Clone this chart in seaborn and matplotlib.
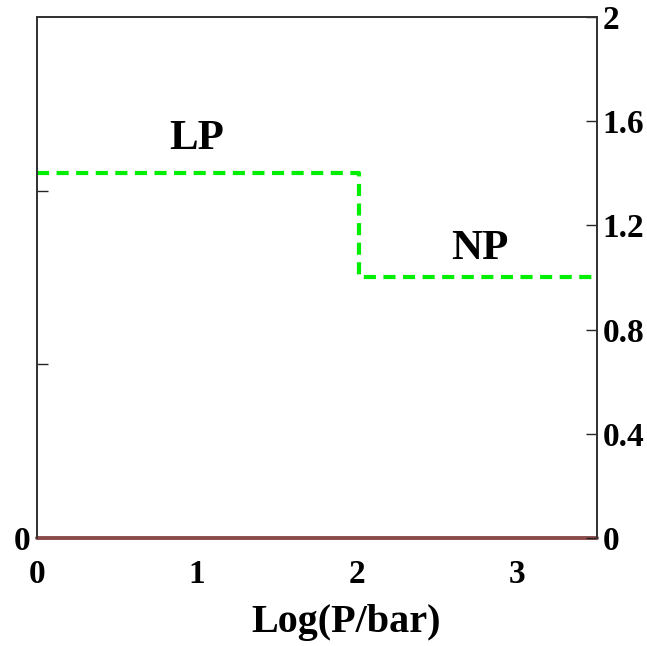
import matplotlib
matplotlib.use("Agg")
import matplotlib.pyplot as plt
import seaborn as sns
import pandas as pd

# Data
log_p = [0.0, 2.01, 2.01, 3.5]
ratio = [1.4, 1.4, 1.0, 1.0]
base_x = [0.0, 3.5]
base_y = [0.0, 0.0]
x_ticks = [0, 1, 2, 3]
right_ticks = [0, 0.4, 0.8, 1.2, 1.6, 2]
right_labels = ["0", "0.4", "0.8", "1.2", "1.6", "2"]
left_ticks = [0, 2 / 3, 4 / 3]
left_labels = ["0", "", ""]
phase_labels = ["LP", "NP"]
phase_x = [1.0, 2.77]
phase_y = [1.53, 1.11]

sns.set_style("white")
plt.rcParams["font.family"] = ["Liberation Serif", "DejaVu Serif"]
plt.rcParams["font.weight"] = "bold"
plt.rcParams["text.color"] = "black"

fig = plt.figure(figsize=(6.47, 6.46), dpi=100)
ax = fig.add_axes([0.0572, 0.1672, 0.8655, 0.8065])

step = pd.DataFrame({"x": log_p, "y": ratio})
base = pd.DataFrame({"x": base_x, "y": base_y})
sns.lineplot(data=step, x="x", y="y", ax=ax, color="#00ee00", linewidth=3,
             linestyle=(0, (2.9, 1.8)), sort=False, estimator=None)
sns.lineplot(data=base, x="x", y="y", ax=ax, color="#8b4a4a", linewidth=2.8,
             sort=False, estimator=None, zorder=5, clip_on=False)

for lab, px, py in zip(phase_labels, phase_x, phase_y):
    ax.text(px, py, lab, fontsize=31, fontweight="bold", ha="center", va="center",
            color="black")

ax.set_xlim(0, 3.5)
ax.set_ylim(0, 2)
ax.set_xticks(x_ticks)
ax.set_xticklabels([str(t) for t in x_ticks], fontsize=24, fontweight="bold")
ax.set_yticks(left_ticks)
ax.set_yticklabels(left_labels, fontsize=24, fontweight="bold")
ax.tick_params(axis="x", direction="in", length=8, width=1, pad=15,
               labelcolor="black")
ax.tick_params(axis="y", direction="in", length=8, width=1, pad=5,
               labelcolor="black")
ax.set_xlabel("Log(P/bar)", fontsize=29, fontweight="bold", labelpad=10,
              color="black", x=0.552)
ax.set_ylabel("")

ax2 = ax.twinx()
ax2.set_ylim(0, 2)
ax2.set_yticks(right_ticks)
ax2.set_yticklabels(right_labels, fontsize=24, fontweight="bold")
ax2.tick_params(axis="y", direction="in", length=8, width=1, pad=4,
                labelcolor="black")

for a in (ax, ax2):
    for s in a.spines.values():
        s.set_color("#333333")
        s.set_linewidth(1.3)
ax2.spines["bottom"].set_visible(False)
ax.spines["bottom"].set_visible(False)

fig.savefig("out.png", dpi=100)
